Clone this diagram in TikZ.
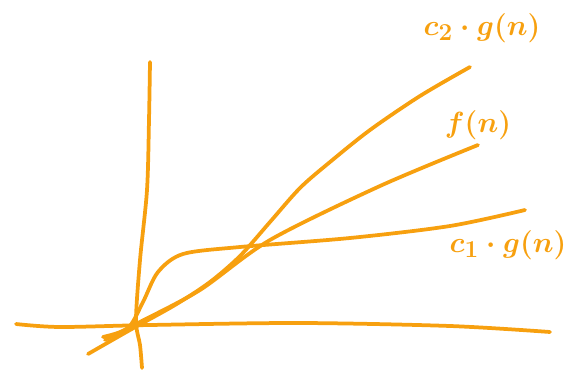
\documentclass[tikz,border=0pt]{standalone}
\usepackage{amsmath,bm}
\usepackage{xcolor}
\usepackage{tikz}
\usetikzlibrary{positioning}
\definecolor{SKOrange}{HTML}{F7A00F}

\begin{document}
\begin{tikzpicture}[x=0.03cm,y=-0.03cm,line cap=round,line join=round,
    stroke/.style={SKOrange,line width=3.2pt},
    label/.style={SKOrange,font=\fontsize{31}{33}\selectfont\boldmath,inner sep=0pt}]
  \path[use as bounding box] (0,0) rectangle (586,371);

  % Hand-drawn axes.
  \draw[stroke] plot[smooth] coordinates
    {(16,324) (60,327) (150,325) (300,323) (450,326) (550,332)};
  \draw[stroke] plot[smooth] coordinates
    {(150,62) (149,120) (147,190) (140,260) (136,320) (140,345) (142,368)};

  % Lower bound c_1 g(n).
  \draw[stroke] plot[smooth] coordinates
    {(103,337) (128,328) (143,302) (158,272) (183,254) (240,247)
     (350,238) (450,226) (525,210)};
  % The function f(n).
  \draw[stroke] plot[smooth] coordinates
    {(105,340) (140,322) (200,290) (270,240) (380,186) (478,145)};
  % Upper bound c_2 g(n).
  \draw[stroke] plot[smooth] coordinates
    {(88,354) (130,330) (175,305) (210,282) (240,256) (270,222)
     (300,188) (330,162) (370,130) (420,96) (470,67)};

  \node[label] (cTwo) at (482,28) {$c_2\cdot g(n)$};
  \node[label] (fN) at (478,125) {$f(n)$};
  \node[label] (cOne) at (508,245) {$c_1\cdot g(n)$};
\end{tikzpicture}
\end{document}
